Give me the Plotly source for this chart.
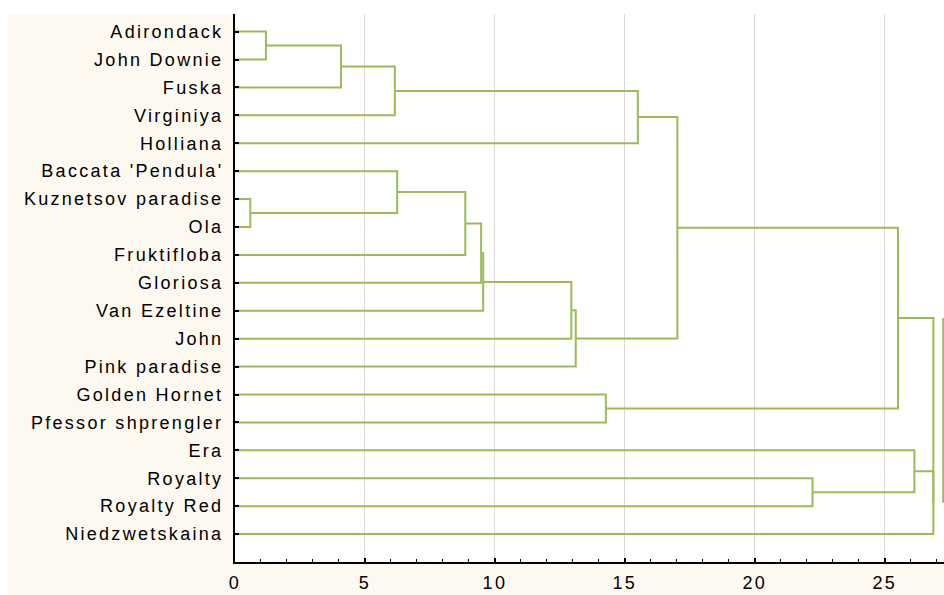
import plotly.graph_objects as go

# Leaf labels, top to bottom in the order they appear on the tree
leaves = [
    "Adirondack", "John Downie", "Fuska", "Virginiya", "Holliana",
    "Baccata 'Pendula'", "Kuznetsov paradise", "Ola", "Fruktifloba",
    "Gloriosa", "Van Ezeltine", "John", "Pink paradise", "Golden Hornet",
    "Pfessor shprengler", "Era", "Royalty", "Royalty Red", "Niedzwetskaina",
]

# Joining steps (linkage distance); new clusters are numbered from len(leaves)
merge_left = [6, 0, 20, 21, 5, 23, 24, 25, 26, 27, 13, 22, 30, 16, 31, 15, 34, 33]
merge_right = [7, 1, 2, 3, 19, 8, 9, 10, 11, 12, 14, 4, 28, 17, 29, 32, 18, 35]
merge_dist = [0.59, 1.19, 4.08, 6.15, 6.24, 8.86, 9.47, 9.55, 12.94, 13.11,
              14.27, 15.50, 17.02, 22.22, 25.51, 26.14, 26.87, 26.87]

x_ticks = [0, 5, 10, 15, 20, 25]
x_max = 27.28

LINE = "#9BBB59"
FONT = "Liberation Sans, Arial, sans-serif"
SPACING = "2.3px"


def spaced(s):
    return f'<span style="letter-spacing:{SPACING}">{s}</span>'


# node positions: leaves at 1..n, clusters at the midpoint of their children
pos = {i: i + 1 for i in range(len(leaves))}
height = {i: 0.0 for i in range(len(leaves))}

xs, ys = [], []
for k, (a, b, d) in enumerate(zip(merge_left, merge_right, merge_dist)):
    node = len(leaves) + k
    xs += [height[a], d, d, height[b], None]
    ys += [pos[a], pos[a], pos[b], pos[b], None]
    pos[node] = (pos[a] + pos[b]) / 2
    height[node] = d

# root link repeated just inside the right border of the plot
root_a, root_b = merge_left[-1], merge_right[-1]
edge = x_max - 0.03
xs += [edge, edge, None]
ys += [pos[root_a], pos[root_b], None]

fig = go.Figure()
fig.add_trace(go.Scatter(
    x=xs, y=ys, mode="lines",
    line=dict(color=LINE, width=2),
    hoverinfo="skip", showlegend=False,
))

fig.update_layout(
    width=944, height=595,
    margin=dict(l=235, r=0, t=14, b=33, pad=0),
    paper_bgcolor="#FDF9F0",
    plot_bgcolor="#FFFFFF",
    font=dict(family=FONT, size=18, color="#000000"),
    shapes=[
        # white border strips around the cream panel
        dict(type="rect", xref="paper", yref="paper", layer="above",
             x0=-0.40, x1=1.05, y0=1.0, y1=1.06, fillcolor="white", line_width=0),
        dict(type="rect", xref="paper", yref="paper", layer="above",
             x0=-0.40, x1=(8 - 235) / 709, y0=-0.10, y1=1.06, fillcolor="white", line_width=0),
    ],
)

fig.update_xaxes(
    range=[0, x_max],
    tickvals=x_ticks, ticktext=[spaced(v) for v in x_ticks],
    ticks="inside", ticklen=4, tickwidth=1.5, tickcolor="black",
    minor=dict(dtick=1, ticks="inside", ticklen=3, tickwidth=1.2, tickcolor="black", showgrid=False),
    showline=True, linecolor="black", linewidth=2,
    showgrid=True, gridcolor="#D9D9D9", gridwidth=1,
    zeroline=False, ticklabelstandoff=3,
)
fig.update_yaxes(
    range=[20.0, 0.37],
    tickvals=list(range(1, len(leaves) + 1)),
    ticktext=[spaced(n) for n in leaves],
    ticks="inside", ticklen=4, tickwidth=1.5, tickcolor="black",
    showline=True, linecolor="black", linewidth=2,
    showgrid=False, zeroline=False, ticklabelstandoff=6,
)

fig.write_html("out.html")
